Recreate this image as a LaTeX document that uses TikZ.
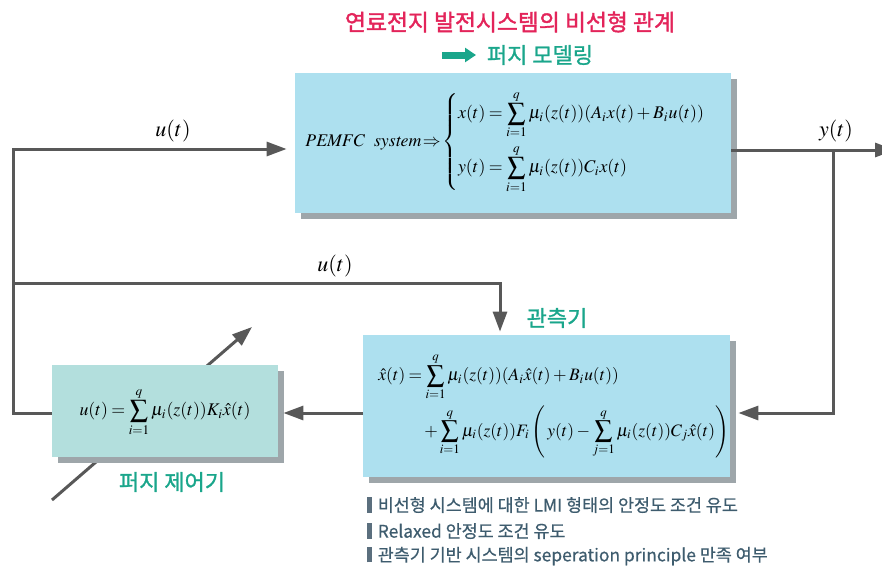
\documentclass[tikz,border=0pt]{standalone}
\usepackage{mathptmx}
\usepackage{fontspec}
\setmainfont{Liberation Serif}
\newfontfamily\kr[FakeBold=0.6]{Noto Sans CJK KR}
\newfontfamily\krt[FakeBold=1.6]{Noto Sans CJK KR}
\newfontfamily\krl[FakeBold=1.2]{Noto Sans CJK KR}
\usetikzlibrary{arrows.meta,shadows}
\definecolor{lineg}{HTML}{585858}
\definecolor{topfill}{HTML}{ADE0EF}
\definecolor{ctrlfill}{HTML}{B3DFDD}
\definecolor{shadg}{HTML}{9EA6AA}
\definecolor{titlered}{HTML}{E3245A}
\definecolor{tealc}{HTML}{1AA68B}
\definecolor{bultxt}{HTML}{3E5C6E}
\definecolor{bulbar}{HTML}{5B6F7E}
\tikzset{
  wire/.style={draw=lineg, line width=1.5pt},
  arr/.style={wire, -{Triangle[length=10pt,width=7pt]}},
  blockbox/.style={rectangle, inner sep=0pt, draw=none,
     drop shadow={shadow xshift=2.8pt, shadow yshift=-2.8pt, fill=shadg, opacity=1}},
  eq/.style={inner sep=0pt, font=\fontsize{8.9}{11}\selectfont},
  obseq/.style={inner sep=0pt, font=\fontsize{8.7}{11}\selectfont},
  krlabel/.style={inner sep=0pt, text=tealc, font=\krl\fontsize{11}{13}\selectfont},
  bul/.style={inner sep=0pt, anchor=west, text=bultxt, font=\kr\fontsize{8.7}{10}\selectfont}
}
\newcommand{\bulbar}{\textcolor{bulbar}{\rule[-0.5pt]{2.2pt}{7.8pt}}\hspace{3pt}}
\medmuskip=2.5mu
\thickmuskip=3.5mu
\begin{document}
\begin{tikzpicture}[x=0.5pt,y=-0.5pt]
\useasboundingbox (0,0) rectangle (882,573);

% title
\node[inner sep=0pt, text=titlered, font=\krt\fontsize{11.4}{13}\selectfont] (title) at (510,22) {연료전지 발전시스템의 비선형 관계};
\coordinate (ta1) at (442,55);
\coordinate (ta2) at (476,55);
\draw[draw=tealc, line width=3.5pt, -{Triangle[length=5.5pt,width=7pt]}] (ta1) -- (ta2);
\node[krlabel] (fm) at (540,55) {퍼지 모델링};

% diagonal arrow (behind controller)
\coordinate (da) at (52,500);
\coordinate (db) at (252,327);
\draw[arr] (da) -- (db);

% boxes
\node[blockbox, fill=topfill, minimum width=218pt, minimum height=70pt] (top) at (513,143) {};
\node[blockbox, fill=topfill, minimum width=183.5pt, minimum height=71pt] (obs) at (546.5,406) {};
\node[blockbox, fill=ctrlfill, minimum width=113pt, minimum height=46pt] (ctrl) at (165,411) {};

% top box content
\node[eq, anchor=west] (sys) at (305,142) {$\mathit{PEMFC\ \ system}\!\Rightarrow\!\left\{\begin{array}{@{}l@{}}
\displaystyle x(t)=\sum_{i=1}^{q}\mu_i(z(t))(A_i x(t)+B_i u(t))\\[10pt]
\displaystyle y(t)=\sum_{i=1}^{q}\mu_i(z(t))C_i x(t)
\end{array}\right.$};

% observer content
\node[obseq, anchor=west] (obs1) at (378,377) {$\displaystyle \hat{x}(t)=\sum_{i=1}^{q}\mu_i(z(t))(A_i\hat{x}(t)+B_i u(t))$};
\node[obseq, anchor=west] (obs2) at (424,432) {$\displaystyle +\sum_{i=1}^{q}\mu_i(z(t))F_i\left(\,y(t)-\sum_{j=1}^{q}\mu_i(z(t))C_j\hat{x}(t)\right)$};

% controller content
\node[eq] (ctrleq) at (165,412) {$\displaystyle u(t)=\sum_{i=1}^{q}\mu_i(z(t))K_i\hat{x}(t)$};

% labels
\node[krlabel] (obslab) at (557,318) {관측기};
\node[krlabel] (ctrllab) at (172,482) {퍼지 제어기};
\node[eq, font=\fontsize{11}{13}\selectfont] (ulab1) at (173,131) {$u(t)$};
\node[eq, font=\fontsize{11}{13}\selectfont] (ulab2) at (335,266) {$u(t)$};
\node[eq, font=\fontsize{11}{13}\selectfont] (ylab) at (836,131) {$y(t)$};

% connectors
\coordinate (lt) at (13,149);
\coordinate (lb) at (13,413);
\coordinate (mj) at (13,283);
\coordinate (od) at (500,283);
\coordinate (yb) at (833,150);
\coordinate (yb2) at (833,413);
\coordinate (yend) at (895,150);
\coordinate (oc) at (363,413);
\draw[arr, shorten >=4pt] (ctrl.west |- lb) -- (lb) -- (lt) -- (lt -| top.west);
\draw[arr, shorten >=1.5pt] (mj) -- (od) -- (od |- obs.north);
\draw[arr] (top.east |- yb) -- (yend);
\draw[arr, shorten >=4pt] (yb) -- (yb2) -- (yb2 -| obs.east);
\draw[arr, shorten >=2.5pt] (oc) -- (oc -| ctrl.east);

% bullets
\node[bul] (b1) at (367,505) {\bulbar 비선형 시스템에 대한 LMI 형태의 안정도 조건 유도};
\node[bul] (b2) at (367,531) {\bulbar Relaxed 안정도 조건 유도};
\node[bul] (b3) at (367,556) {\bulbar 관측기 기반 시스템의 seperation principle 만족 여부};
\end{tikzpicture}
\end{document}
